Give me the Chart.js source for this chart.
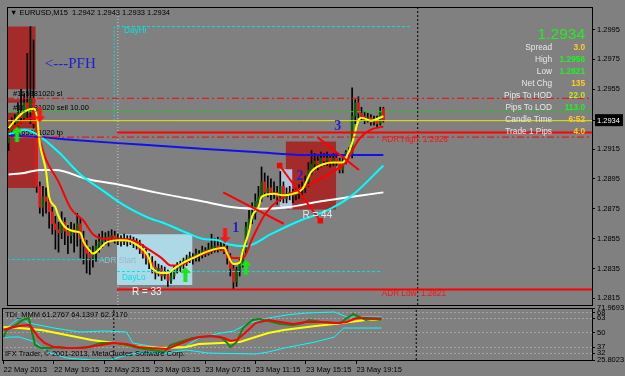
<!DOCTYPE html>
<html><head><meta charset="utf-8">
<script src="https://cdn.jsdelivr.net/npm/chart.js"></script>
<style>
html,body{margin:0;padding:0;background:#808080;overflow:hidden}
#wrap{position:relative;width:625px;height:376px}
canvas{position:absolute;left:0;top:0}
</style></head><body>
<div id="wrap"><canvas id="main" width="625" height="376"></canvas><canvas id="tdi" width="625" height="376"></canvas></div>
<script>
// ---------- DATA ----------
const tickBars = [0,16,32,48,64,80,96,112];
const tickLabels = ['22 May 2013','22 May 19:15','22 May 23:15','23 May 03:15','23 May 07:15','23 May 11:15','23 May 15:15','23 May 19:15'];
const priceTicks = [1.2815,1.2835,1.2855,1.2875,1.2895,1.2915,1.2934,1.2955,1.2975,1.2995];
const tdiTicks = [25.8023,32,37,50,63,68,71.9693];

const opens = [1.2919,1.2927,1.2931,1.2928,1.2939,1.2936,1.2946,1.2942,1.2949,1.2932,
1.2890,1.2876,1.2883,1.2880,1.2873,1.2865,1.2861,1.2859,1.2866,1.2860,
1.2857,1.2861,1.2859,1.2865,1.2855,1.2850,1.2845,1.2842,1.2845,1.2850,
1.2853,1.2855,1.2856,1.2855,1.2857,1.2855,1.2855,1.2853,1.2855,1.2853,
1.2854,1.2853,1.2851,1.2848,1.2845,1.2842,1.2839,1.2836,1.2832,1.2835,
1.2830,1.2832,1.2827,1.2830,1.2835,1.2836,1.2838,1.2840,1.2841,1.2843,
1.2842,1.2845,1.2844,1.2847,1.2845,1.2848,1.2849,1.2850,1.2849,1.2850,
1.2848,1.2842,1.2835,1.2826,1.2834,1.2839,1.2847,1.2863,1.2868,1.2872,
1.2880,1.2883,1.2893,1.2886,1.2889,1.2885,1.2886,1.2883,1.2890,1.2882,
1.2885,1.2886,1.2884,1.2885,1.2888,1.2889,1.2893,1.2901,1.2905,1.2907,
1.2905,1.2909,1.2907,1.2909,1.2906,1.2909,1.2907,1.2901,1.2907,1.2913,
1.2911,1.2937,1.2946,1.2939,1.2937,1.2935,1.2936,1.2933,1.2935,1.2932,
1.2942];
const highs = [1.2930,1.2936,1.2938,1.2946,1.2955,1.2952,1.2979,1.2997,1.2988,1.2941,
1.2893,1.2890,1.2889,1.2884,1.2876,1.2870,1.2866,1.2873,1.2869,1.2864,
1.2866,1.2865,1.2872,1.2869,1.2860,1.2854,1.2849,1.2850,1.2854,1.2858,
1.2860,1.2859,1.2860,1.2861,1.2860,1.2858,1.2857,1.2858,1.2857,1.2857,
1.2856,1.2855,1.2854,1.2851,1.2848,1.2845,1.2843,1.2840,1.2838,1.2837,
1.2836,1.2834,1.2833,1.2837,1.2839,1.2840,1.2842,1.2844,1.2846,1.2845,
1.2848,1.2847,1.2850,1.2849,1.2852,1.2858,1.2855,1.2856,1.2854,1.2853,
1.2850,1.2845,1.2838,1.2836,1.2842,1.2849,1.2866,1.2874,1.2879,1.2885,
1.2890,1.2903,1.2899,1.2897,1.2895,1.2893,1.2890,1.2900,1.2893,1.2889,
1.2890,1.2888,1.2889,1.2891,1.2893,1.2897,1.2906,1.2914,1.2912,1.2910,
1.2913,1.2912,1.2913,1.2911,1.2912,1.2912,1.2909,1.2910,1.2914,1.2916,
1.2956,1.2948,1.2950,1.2943,1.2940,1.2939,1.2938,1.2937,1.2937,1.2943,
1.2943];
const lows = [1.2914,1.2923,1.2925,1.2926,1.2932,1.2934,1.2936,1.2932,1.2929,1.2886,
1.2872,1.2870,1.2872,1.2862,1.2858,1.2848,1.2846,1.2855,1.2851,1.2845,
1.2852,1.2846,1.2850,1.2842,1.2838,1.2832,1.2831,1.2836,1.2840,1.2846,
1.2849,1.2851,1.2850,1.2853,1.2852,1.2851,1.2850,1.2851,1.2850,1.2851,
1.2849,1.2848,1.2845,1.2842,1.2838,1.2835,1.2832,1.2828,1.2830,1.2827,
1.2828,1.2823,1.2825,1.2828,1.2832,1.2833,1.2835,1.2837,1.2839,1.2838,
1.2840,1.2840,1.2842,1.2843,1.2844,1.2845,1.2846,1.2846,1.2847,1.2845,
1.2838,1.2830,1.2821,1.2823,1.2830,1.2836,1.2845,1.2860,1.2865,1.2868,
1.2876,1.2880,1.2884,1.2883,1.2881,1.2882,1.2878,1.2880,1.2879,1.2879,
1.2881,1.2879,1.2881,1.2882,1.2884,1.2886,1.2890,1.2898,1.2901,1.2901,
1.2903,1.2904,1.2904,1.2903,1.2904,1.2904,1.2899,1.2899,1.2905,1.2909,
1.2909,1.2932,1.2936,1.2934,1.2932,1.2933,1.2931,1.2931,1.2930,1.2931,
1.2933];
const closes = [1.2927,1.2931,1.2928,1.2939,1.2936,1.2946,1.2942,1.2949,1.2932,1.2890,
1.2876,1.2883,1.2880,1.2873,1.2865,1.2861,1.2859,1.2866,1.2860,1.2857,
1.2861,1.2859,1.2865,1.2855,1.2850,1.2845,1.2842,1.2845,1.2850,1.2853,
1.2855,1.2856,1.2855,1.2857,1.2855,1.2855,1.2853,1.2855,1.2853,1.2854,
1.2853,1.2851,1.2848,1.2845,1.2842,1.2839,1.2836,1.2832,1.2835,1.2830,
1.2832,1.2827,1.2830,1.2835,1.2836,1.2838,1.2840,1.2841,1.2843,1.2842,
1.2845,1.2844,1.2847,1.2845,1.2848,1.2849,1.2850,1.2849,1.2850,1.2848,
1.2842,1.2835,1.2826,1.2834,1.2839,1.2847,1.2863,1.2868,1.2872,1.2880,
1.2883,1.2893,1.2886,1.2889,1.2885,1.2886,1.2883,1.2890,1.2882,1.2885,
1.2886,1.2884,1.2885,1.2888,1.2889,1.2893,1.2901,1.2905,1.2907,1.2905,
1.2909,1.2907,1.2909,1.2906,1.2909,1.2907,1.2901,1.2907,1.2913,1.2911,
1.2937,1.2946,1.2939,1.2937,1.2935,1.2936,1.2933,1.2935,1.2932,1.2940,
1.2934];

// moving averages [bar, price]
const maYellow = [[0,1.2929],[2,1.2934],[5,1.2940],[8,1.2942],[9,1.2938],[10,1.2919],[12,1.2900],[13,1.2883],[15,1.2876],[16,1.2870],[18,1.2863],[21,1.2860],[23,1.2859],[24,1.2853],[26,1.2847],[27,1.2845],[29,1.2848],[31,1.2852],[32,1.2853],[35,1.2854],[37,1.2854],[41,1.2851],[45,1.2842],[46,1.2835],[50,1.2832],[51,1.2832],[53,1.2835],[56,1.2839],[59,1.2842],[62,1.2845],[66,1.2848],[69,1.2849],[70,1.2845],[72,1.2838],[74,1.2839],[75,1.2847],[77,1.2860],[78,1.2870],[80,1.2876],[81,1.2883],[85,1.2885],[88,1.2884],[91,1.2885],[94,1.2888],[97,1.2900],[101,1.2905],[104,1.2906],[107,1.2906],[108,1.2909],[110,1.2919],[112,1.2934],[113,1.2936],[116,1.2934],[120,1.2937]];
const maRed = [[0,1.2927],[5,1.2934],[8,1.2936],[10,1.2921],[12,1.2908],[16,1.2893],[20,1.2875],[24,1.2867],[27,1.2858],[31,1.2855],[35,1.2855],[41,1.2853],[44,1.2849],[49,1.2842],[52,1.2837],[56,1.2838],[59,1.2842],[63,1.2845],[67,1.2848],[69,1.2847],[72,1.2842],[75,1.2842],[78,1.2855],[82,1.2871],[86,1.2880],[91,1.2886],[98,1.2893],[104,1.2900],[108,1.2906],[112,1.2921],[116,1.2928],[120,1.2930]];
const maCyan = [[0,1.2925],[2,1.2926],[5,1.2928],[9,1.2925],[16,1.2913],[23,1.2898],[31,1.2886],[35,1.2880],[39,1.2875],[46,1.2868],[49,1.2866],[57,1.2859],[62,1.2855],[67,1.2854],[71,1.2851],[76,1.2850],[84,1.2858],[92,1.2866],[103,1.2875],[110,1.2884],[120,1.2904]];
const maWhite = [[0,1.2898],[5,1.2899],[10,1.2901],[15,1.2901],[25,1.2895],[36,1.2891],[47,1.2886],[57,1.2882],[62,1.2880],[72,1.2876],[82,1.2875],[89,1.2876],[100,1.2880],[110,1.2883],[120,1.2886]];
const maBlue = [[0,1.2924],[10,1.2923],[21,1.2921],[42,1.2918],[63,1.2915],[79,1.2913],[95,1.2911],[120,1.2911]];

// price levels
const bidPrice = 1.2934;
const slPrice = 1.2949, sellPrice = 1.2940, tpPrice = 1.2923;
const adrHigh = 1.2926, adrLow = 1.2821, dayHi = 1.2997, dayLo = 1.2833, adrStart = 1.2841;
const daySeparators = [35, 131];

// boxes [bar from, bar to, price top, price bottom]
const boxPFH = [-0.5, 8.7, 1.2997, 1.2889];
const boxR33 = [34.7, 58.9, 1.2858, 1.2824];
const boxR44 = [88.7, 104.9, 1.2920, 1.28745];
const boxSmall = [86.8, 90.9, 1.29015, 1.2875];

// trend strokes [[bar, price],[bar, price]]
const strokeA = [[68.7,1.2886],[88.1,1.2865]];
const strokeC = [[86.8,1.2904],[99.8,1.2867]];
const strokeD = [[98.9,1.2923],[112.2,1.2901]];
const upArrows = [[2.7,1.2925],[56.6,1.2831],[76,1.2836]];
const downArrows = [[10,1.2938],[69.3,1.2857]];

// TDI lines [bar, value]
const tdiGreen = [[0,46.2],[1,52.4],[4,56.9],[6,61.3],[8,63.1],[9,50.7],[10,39.1],[12,36.4],[15,36.4],[17,37.3],[20,36.4],[23,36.4],[27,37.3],[31,40.9],[35,40.9],[39,39.1],[43,36.4],[47,34.7],[51,32.9],[53,39.1],[56,41.8],[60,45.3],[66,47.1],[69,46.2],[71,40.9],[72,37.3],[74,41.8],[76,54.2],[79,61.3],[81,62.2],[84,60.4],[88,57.8],[92,56.9],[95,58.6],[97,61.3],[101,59.5],[105,58.6],[107,58.6],[109,63.1],[111,66.6],[113,64.0],[115,61.3],[117,62.2],[120,61.3]];
const tdiRed = [[0,52.4],[2,54.2],[5,56.0],[8,56.9],[9,54.2],[11,46.2],[13,40.9],[16,37.3],[20,36.4],[25,36.4],[31,39.1],[35,40.9],[39,40.0],[43,37.3],[47,36.4],[52,35.6],[55,39.1],[59,43.6],[62,46.2],[66,47.1],[70,45.3],[72,42.7],[74,43.6],[77,50.7],[80,58.6],[84,61.3],[88,59.5],[92,57.8],[96,59.5],[101,59.5],[106,58.6],[109,59.5],[112,63.1],[115,63.1],[120,62.7]];
const tdiYellow = [[0,55.1],[5,54.2],[12,52.4],[20,48.0],[28,43.6],[35,40.9],[41,38.2],[50,36.4],[58,37.3],[62,40.0],[69,40.9],[75,41.8],[79,45.3],[84,49.8],[89,52.4],[94,54.2],[99,56.0],[105,57.8],[110,59.5],[115,61.3],[120,61.3]];
const tdiUpper = [[0,52.4],[5,63.1],[8,58.6],[16,54.2],[24,50.7],[32,51.5],[39,50.7],[41,40.9],[50,36.4],[57,36.4],[62,45.3],[69,49.8],[73,51.5],[78,58.6],[84,63.1],[90,65.8],[96,67.5],[105,68.4],[109,64.0],[120,64.1]];
const tdiLower = [[0,45.3],[2,46.2],[5,46.2],[10,41.8],[14,32.9],[20,27.6],[28,25.8],[34,25.8],[39,30.2],[43,32.0],[52,32.0],[58,34.7],[65,32.0],[80,31.1],[84,32.9],[89,36.4],[94,39.1],[99,41.8],[105,46.2],[108,54.2],[111,54.2],[120,54.2]];

const infoLabels = ['Spread','High','Low','Net Chg','Pips To HOD','Pips To LOD','Candle Time','Trade 1 Pips'];
const infoValues = ['3.0','1.2956','1.2821','135','22.0','113.0','6:52','4.0'];

// ---------- STYLE / LAYOUT ----------
const X_MIN = -0.5, X_MAX = 186.8;
const P_MIN = 1.28106, P_MAX = 1.30101;
const T_MIN = 25.8023, T_MAX = 71.9693;
const BULL = '#0b5e0b', BEAR = '#f01010';
const GOLD = '#ffcc22', LIME = '#22f022';
const infoColors = [GOLD, LIME, LIME, GOLD, '#c8e61e', LIME, GOLD, GOLD];
const SANS = "'Liberation Sans', Arial, sans-serif";
const SERIF = "'Liberation Serif', 'Times New Roman', serif";
Chart.defaults.font.family = SANS;
Chart.defaults.color = '#000';

const pts = a => a.map(([x, y]) => ({x, y}));
const hseg = (b0, b1, p) => [{x:b0, y:p}, {x:b1, y:p}];
const lineDs = (data, color, width, extra) => Object.assign({type:'line', data, borderColor:color, borderWidth:width, pointRadius:0, fill:false, tension:0}, extra || {});
const maDs = (a, color, order) => lineDs(pts(a), color, 2, {cubicInterpolationMode:'monotone', order});
const boxDs = (b, color) => ({type:'line', data:hseg(b[0], b[1], b[2]), fill:{value:b[3]}, backgroundColor:color, borderColor:'rgba(0,0,0,0)', borderWidth:1, pointRadius:0, order:100});

function arrowImage(color, down) {
  const c = document.createElement('canvas'); c.width = 11; c.height = 15;
  const g = c.getContext('2d'); g.fillStyle = color; g.beginPath();
  if (!down) { g.moveTo(5.5,0); g.lineTo(11,6); g.lineTo(7.5,6); g.lineTo(7.5,15); g.lineTo(3.5,15); g.lineTo(3.5,6); g.lineTo(0,6); }
  else { g.moveTo(5.5,15); g.lineTo(11,9); g.lineTo(7.5,9); g.lineTo(7.5,0); g.lineTo(3.5,0); g.lineTo(3.5,9); g.lineTo(0,9); }
  g.closePath(); g.fill(); return c;
}

function txt(ctx, s, x, y, color, font, align) {
  ctx.save(); ctx.font = font; ctx.fillStyle = color; ctx.textAlign = align || 'left'; ctx.textBaseline = 'middle';
  ctx.fillText(s, x, y); ctx.restore();
}

const frame = {
  id:'frame',
  afterDraw(chart) {
    const a = chart.chartArea, ctx = chart.ctx;
    ctx.save(); ctx.strokeStyle = '#000'; ctx.lineWidth = 1;
    ctx.strokeRect(Math.round(a.left)+0.5, Math.round(a.top)+0.5, Math.round(a.right-a.left), Math.round(a.bottom-a.top));
    ctx.restore();
  }
};

const orderLabels = [['#165381020 sl', slPrice], ['#165381020 sell 10.00', sellPrice], ['#165381020 tp', tpPrice]];
const notes = [
  {t:'<---PFH', b:11.6, p:1.2972, c:'#1e1ed2', f:'15px ' + SERIF},
  {t:'DayHi', b:37.0, p:1.2994, c:'#00e4e4', f:'8.2px ' + SANS},
  {t:'1', b:71.6, p:1.2862, c:'#1e1ed2', f:'bold 14px ' + SERIF},
  {t:'2', b:92.2, p:1.2897, c:'#1e1ed2', f:'bold 14px ' + SERIF},
  {t:'3', b:104.3, p:1.2930, c:'#1e1ed2', f:'bold 14px ' + SERIF},
  {t:'R = 33', b:39.5, p:1.2819, c:'#f4f4f4', f:'10px ' + SANS},
  {t:'R = 44', b:94.1, p:1.2871, c:'#e6e6e6', f:'10px ' + SANS},
  {t:'ADR High: 1.2926', b:119.5, p:1.29212, c:'#ff1010', f:'8.2px ' + SANS},
  {t:'ADR Low: 1.2821', b:119.5, p:1.2818, c:'#ff1010', f:'8.2px ' + SANS},
  {t:'ADR Start', b:29, p:1.2840, c:'#96bccb', f:'8.2px ' + SANS},
  {t:'DayLo', b:36.3, p:1.2829, c:'#00e4ee', f:'8.2px ' + SANS}
];

const mainText = {
  id:'mainText',
  beforeDatasetDraw(chart, args) {
    if (chart.data.datasets[args.index].label !== 'wicks') return;
    const {ctx, scales:{x, y}} = chart;
    ctx.save(); ctx.font = '7.5px ' + SANS;
    orderLabels.forEach(([s, p]) => {
      const px = x.getPixelForValue(1.4), py = y.getPixelForValue(p) - 4;
      const w = ctx.measureText(s).width;
      ctx.fillStyle = '#808080'; ctx.fillRect(px - 6, py - 5, w + 8, 10);
      ctx.fillStyle = '#000'; ctx.textBaseline = 'middle'; ctx.fillText(s, px, py);
    });
    ctx.restore();
  },
  afterDatasetsDraw(chart) {
    const {ctx, chartArea:a, scales:{x, y}} = chart;
    notes.forEach(n => txt(ctx, n.t, x.getPixelForValue(n.b), y.getPixelForValue(n.p), n.c, n.f));
    txt(ctx, '\u25BC EURUSD,M15  1.2942 1.2943 1.2933 1.2934', a.left + 3, a.top + 5.5, '#000', '7.5px ' + SANS);
    txt(ctx, bidPrice.toFixed(4), a.right - 7, a.top + 28, '#22ee22', '15.5px ' + SANS, 'right');
    infoLabels.forEach((l, k) => {
      const yy = a.top + 41 + k * 11.9;
      txt(ctx, l, a.right - 40, yy, '#e8e8e8', '8.3px ' + SANS, 'right');
      txt(ctx, infoValues[k], a.right - 7, yy, infoColors[k], 'bold 8.3px ' + SANS, 'right');
    });
  }
};

// ---------- MAIN CHART ----------
const bars = closes.map((c, i) => i);
const mainDatasets = [
  boxDs(boxPFH, '#a52a2a'), boxDs(boxR33, '#add8e6'), boxDs(boxSmall, '#b0c4de'), boxDs(boxR44, '#a52a2a'),
  lineDs([{x:daySeparators[0], y:P_MIN}, {x:daySeparators[0], y:P_MAX}], '#c8c8c8', 1, {borderDash:[1,2], order:90}),
  lineDs([{x:daySeparators[1], y:P_MIN}, {x:daySeparators[1], y:P_MAX}], '#000', 1, {borderDash:[2,2], order:90}),
  {type:'bar', label:'wicks', data:bars.map(i => ({x:i, y:[lows[i], highs[i]]})), backgroundColor:'#000', barThickness:1, grouped:false, order:60},
  {type:'bar', label:'bodies', data:bars.map(i => ({x:i, y:[opens[i], closes[i]]})), backgroundColor:bars.map(i => closes[i] >= opens[i] ? BULL : BEAR), barThickness:2, minBarLength:1, grouped:false, order:55},
  maDs(maBlue, '#1010f0', 45), maDs(maWhite, '#ffffff', 44), maDs(maCyan, '#00ffff', 43), maDs(maRed, '#ff0000', 42), maDs(maYellow, '#ffff00', 41),
  lineDs(hseg(X_MIN, X_MAX, bidPrice), '#e6e600', 1, {order:30}),
  lineDs(hseg(X_MIN, X_MAX, slPrice), '#ff0000', 1, {borderDash:[7,3,2,3], order:30}),
  lineDs(hseg(X_MIN, X_MAX, sellPrice), '#00dd00', 1, {borderDash:[4,3], order:30}),
  lineDs(hseg(X_MIN, X_MAX, tpPrice), '#ff0000', 1, {borderDash:[7,3,2,3], order:30}),
  lineDs(hseg(34.7, X_MAX, adrHigh), '#ff0000', 2, {order:30}),
  lineDs(hseg(34.7, X_MAX, adrLow), '#ff0000', 2, {order:30}),
  lineDs(hseg(34.7, 128.4, dayHi), '#00e4e4', 1, {borderDash:[3,2], order:30}),
  lineDs([{x:33.8, y:dayHi}, {x:33.8, y:bidPrice}], '#00e4e4', 1, {borderDash:[2,2], order:30}),
  lineDs(hseg(34.7, 119.5, dayLo), '#00e4e4', 1, {borderDash:[3,2], order:30}),
  lineDs(hseg(X_MIN, 34.7, adrStart), '#00d8e0', 1, {borderDash:[3,2], order:30}),
  lineDs(pts(strokeA), '#ff0000', 2, {order:20}),
  lineDs(pts(strokeC), '#ff0000', 2, {order:20, pointRadius:2.5, pointStyle:'rect', pointBackgroundColor:'#ff0000', pointBorderColor:'#ff0000'}),
  lineDs(pts(strokeD), '#ff0000', 2, {order:20}),
  {type:'line', data:pts(upArrows), showLine:false, pointStyle:arrowImage('#19e619', false), pointRadius:6, order:10},
  {type:'line', data:pts(downArrows), showLine:false, pointStyle:arrowImage('#ff1414', true), pointRadius:6, order:10}
];

new Chart(document.getElementById('main'), {
  type:'line',
  data:{datasets:mainDatasets},
  options:{
    responsive:false, animation:false, devicePixelRatio:1, events:[],
    layout:{padding:{left:2, top:2, right:0, bottom:71}},
    plugins:{legend:{display:false}, tooltip:{enabled:false}},
    scales:{
      x:{type:'linear', min:X_MIN, max:X_MAX, offset:false, display:false},
      y:{type:'linear', position:'right', min:P_MIN, max:P_MAX,
        afterBuildTicks:s => { s.ticks = priceTicks.map(v => ({value:v})); },
        afterFit:s => { s.width = 33; s.paddingTop = 0; s.paddingBottom = 0; },
        grid:{drawOnChartArea:false, drawTicks:true, tickLength:3, color:'#000', tickColor:'#000'},
        border:{display:false},
        ticks:{autoSkip:false, padding:2, font:{size:7.5},
          color:c => (c.tick && c.tick.value === bidPrice) ? '#ffffff' : '#000',
          showLabelBackdrop:c => !!(c.tick && c.tick.value === bidPrice),
          backdropColor:'#000', backdropPadding:{left:2, right:3, top:2, bottom:1},
          callback:v => Number(v).toFixed(4)}
      }
    }
  },
  plugins:[frame, mainText]
});

// ---------- TDI CHART ----------
const tdiText = {
  id:'tdiText',
  afterDatasetsDraw(chart) {
    const {ctx, chartArea:a} = chart;
    txt(ctx, 'TDI_MMM 61.2767 64.1397 62.7170', a.left + 3, a.top + 7, '#000', '7.5px ' + SANS);
    txt(ctx, 'IFX Trader, \u00A9 2001-2013, MetaQuotes Software Corp.', a.left + 3, a.bottom - 6, '#000', '7.5px ' + SANS);
  }
};

new Chart(document.getElementById('tdi'), {
  type:'line',
  data:{datasets:[
    lineDs([{x:daySeparators[0], y:T_MIN}, {x:daySeparators[0], y:T_MAX}], '#000', 1, {borderDash:[2,2], order:20}),
    lineDs([{x:daySeparators[1], y:T_MIN}, {x:daySeparators[1], y:T_MAX}], '#000', 1, {borderDash:[2,2], order:20}),
    lineDs(pts(tdiUpper), '#00ffff', 1, {order:10}),
    lineDs(pts(tdiLower), '#00ffff', 1, {order:9}),
    lineDs(pts(tdiYellow), '#ffff00', 2, {order:8}),
    lineDs(pts(tdiGreen), '#128512', 2, {order:7}),
    lineDs(pts(tdiRed), '#ff0000', 2, {order:6})
  ]},
  options:{
    responsive:false, animation:false, devicePixelRatio:1, events:[],
    layout:{padding:{left:2, top:308, right:0, bottom:0}},
    plugins:{legend:{display:false}, tooltip:{enabled:false}},
    scales:{
      x:{type:'linear', position:'bottom', min:X_MIN, max:X_MAX, offset:false,
        afterBuildTicks:s => { s.ticks = tickBars.map(v => ({value:v})); },
        afterFit:s => { s.height = 16; s.paddingLeft = 0; s.paddingRight = 0; },
        grid:{drawOnChartArea:false, tickLength:4, color:'#000', tickColor:'#000'},
        border:{display:false},
        ticks:{align:'start', autoSkip:false, maxRotation:0, minRotation:0, padding:1, font:{size:7.5}, color:'#000',
          callback:(v, i) => tickLabels[i]}
      },
      y:{type:'linear', position:'right', min:T_MIN, max:T_MAX,
        afterBuildTicks:s => { s.ticks = tdiTicks.map(v => ({value:v})); },
        afterFit:s => { s.width = 33; s.paddingTop = 0; s.paddingBottom = 0; },
        grid:{color:c => (c.tick && (c.tick.value === T_MIN || c.tick.value === T_MAX)) ? 'rgba(0,0,0,0)' : '#a4a4a4', tickColor:'#000', tickLength:3},
        border:{display:false, dash:[2,2]},
        ticks:{autoSkip:false, padding:2, font:{size:7.5}, color:'#000',
          callback:v => (v === T_MIN || v === T_MAX) ? Number(v).toFixed(4) : String(v)}
      }
    }
  },
  plugins:[frame, tdiText]
});
</script>
</body></html>
